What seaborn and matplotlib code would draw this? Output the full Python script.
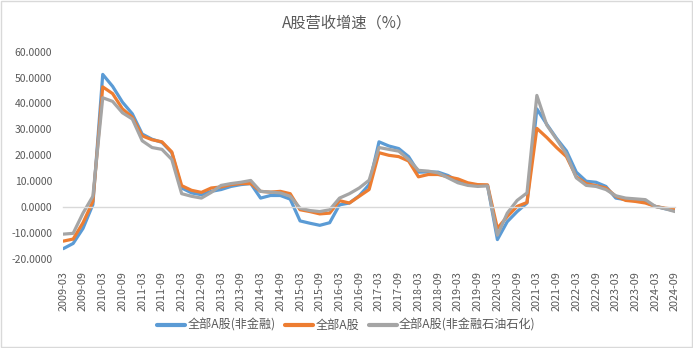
import matplotlib
matplotlib.use("Agg")
import matplotlib.pyplot as plt
import seaborn as sns
import pandas as pd
from matplotlib.patches import Rectangle

quarters = [f"{y}-{m}" for y in range(2009, 2025) for m in ("03", "06", "09", "12")][:63]

series_names = ["全部A股(非金融)", "全部A股", "全部A股(非金融石油石化)"]

nonfin = [-16.0, -14.0, -8.2, 1.0, 51.2, 46.6, 40.5, 36.0, 28.2, 26.2, 25.0, 21.0,
          7.4, 5.5, 4.8, 6.1, 6.8, 8.0, 8.7, 9.1, 3.5, 4.5, 4.5, 3.1,
          -5.3, -6.2, -7.0, -6.0, 0.9, 1.6, 4.4, 8.7, 25.2, 23.6, 22.6, 19.5,
          13.5, 13.6, 13.5, 12.2, 10.0, 8.7, 8.4, 8.4, -12.5, -5.6, -1.7, 1.6,
          37.9, 32.0, 26.5, 21.7, 13.5, 10.0, 9.6, 8.0, 3.5, 2.9, 2.6, 1.9,
          0.3, -0.6, -1.4]

all_a = [-13.1, -12.3, -6.0, 2.2, 46.4, 43.8, 37.9, 34.7, 27.5, 26.0, 25.2, 21.3,
         8.3, 6.5, 5.7, 7.4, 7.8, 8.7, 9.1, 9.1, 6.1, 5.8, 6.1, 5.2,
         -1.0, -1.7, -2.6, -2.3, 2.5, 1.6, 4.2, 6.8, 21.0, 20.0, 19.5, 17.8,
         11.7, 12.6, 12.6, 11.7, 10.9, 9.4, 8.7, 8.6, -8.2, -3.6, 0.3, 1.8,
         30.4, 26.9, 23.0, 19.5, 11.7, 9.1, 8.3, 7.4, 4.2, 2.6, 2.2, 1.6,
         0.3, -0.4, -0.8]

nonfin_nonoil = [-10.4, -10.1, -2.3, 4.2, 42.2, 40.8, 36.4, 34.0, 25.6, 23.0, 22.3, 18.4,
                 5.2, 4.2, 3.5, 5.7, 8.4, 9.1, 9.6, 10.3, 6.1, 5.8, 5.5, 4.2,
                 -0.4, -1.3, -1.7, -1.0, 3.5, 5.2, 7.4, 10.4, 23.0, 22.3, 21.6, 18.4,
                 14.2, 13.9, 13.2, 11.3, 9.4, 8.4, 8.0, 8.2, -10.8, -2.3, 2.6, 5.5,
                 43.1, 31.7, 26.2, 20.4, 11.3, 8.4, 8.0, 6.8, 4.4, 3.5, 3.2, 2.9,
                 0.3, -0.6, -1.7]

colors = ["#5B9BD5", "#ED7D31", "#A5A5A5"]

sns.set_theme(style="white")
plt.rcParams["font.family"] = ["Noto Sans CJK SC", "DejaVu Sans"]

rows = []
for name, vals in zip(series_names, [nonfin, all_a, nonfin_nonoil]):
    for i, v in enumerate(vals):
        rows.append({"idx": i, "value": v, "series": name})
df = pd.DataFrame(rows)

fig = plt.figure(figsize=(6.93, 3.48), dpi=100)
ax = fig.add_axes([0.0913, 0.2557, 0.8827, 0.596])

sns.lineplot(data=df, x="idx", y="value", hue="series", hue_order=series_names,
             palette=colors, linewidth=2.3, ax=ax, legend=True)

for s in ["top", "right", "left"]:
    ax.spines[s].set_visible(False)
ax.spines["bottom"].set_position(("data", 0))
ax.spines["bottom"].set_color("#D9D9D9")
ax.spines["bottom"].set_linewidth(1.0)

ax.set_xlim(0, len(quarters) - 1)
ax.set_ylim(-20, 60)
ax.set_yticks(range(-20, 61, 10))
ax.set_yticklabels([f"{v:.4f}" for v in range(-20, 61, 10)])
ax.set_xticks(range(0, len(quarters), 2))
ax.set_xticklabels(quarters[::2])
ax.set_xlabel("")
ax.set_ylabel("")

ax.tick_params(axis="x", colors="#D9D9D9", length=4, width=1.0, direction="out",
               pad=42, labelsize=7.8, labelcolor="#595959", labelrotation=90)
ax.tick_params(axis="y", length=0, pad=8, labelsize=7.5, labelcolor="#595959")
for lbl in ax.get_xticklabels():
    lbl.set_va("top")
ax.grid(False)

leg = ax.legend(loc="center", bbox_to_anchor=(0.5, 0.065), bbox_transform=fig.transFigure,
                ncol=3, frameon=False, fontsize=8.7, handlelength=2.3, columnspacing=0.8,
                handletextpad=0.2)
for t in leg.get_texts():
    t.set_color("#595959")
for h in leg.get_lines():
    h.set_linewidth(3)

fig.text(0.5, 0.935, "A股营收增速（%）", ha="center", va="center", fontsize=11,
         color="#595959")

fig.patches.append(Rectangle((0.001, 0.002), 0.997, 0.995, transform=fig.transFigure,
                             fill=False, edgecolor="#D9D9D9", linewidth=1.0))

fig.savefig("out.png", dpi=100, facecolor="white")
